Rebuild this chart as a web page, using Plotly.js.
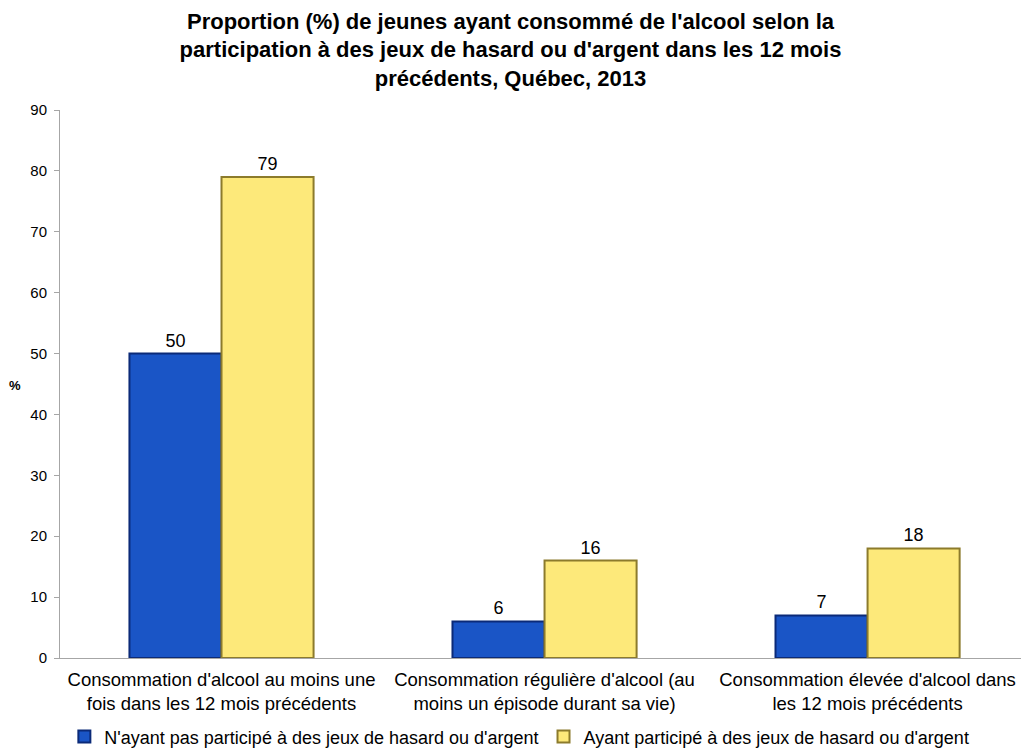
<!DOCTYPE html>
<html><head><meta charset="utf-8">
<script src="https://cdn.plot.ly/plotly-3.0.1.min.js"></script>
<style>body{margin:0;background:#fff}#c{width:1021px;height:750px}</style>
</head><body><div id="c"></div>
<script>
const categories = [
  "Consommation d'alcool au moins une<br>fois dans les 12 mois précédents",
  "Consommation régulière d'alcool (au<br>moins un épisode durant sa vie)",
  "Consommation élevée d'alcool dans<br>les 12 mois précédents"
];
const seriesNames = [
  "N'ayant pas participé à des jeux de hasard ou d'argent",
  "Ayant participé à des jeux de hasard ou d'argent"
];
const nonJoueurs = [50, 6, 7];
const joueurs = [79, 16, 18];
const yTicks = [0, 10, 20, 30, 40, 50, 60, 70, 80, 90];

const font = "Liberation Sans, Arial, sans-serif";
const data = [
  {type:'bar', name:seriesNames[0], x:categories, y:nonJoueurs,
   text:nonJoueurs.map(String), textposition:'outside', cliponaxis:false,
   textfont:{size:18,color:'#000',family:font},
   marker:{color:'#1a55c6', line:{color:'#0b2a78', width:2}}},
  {type:'bar', name:seriesNames[1], x:categories, y:joueurs,
   text:joueurs.map(String), textposition:'outside', cliponaxis:false,
   textfont:{size:18,color:'#000',family:font},
   marker:{color:'#fde97a', line:{color:'#8c7b2c', width:2}}}
];
const layout = {
  width:1021, height:750,
  margin:{l:60, r:0, t:110, b:92, autoexpand:false},
  paper_bgcolor:'#fff', plot_bgcolor:'#fff',
  font:{family:font, color:'#000'},
  title:{text:"Proportion (%) de jeunes ayant consommé de l'alcool selon la<br>participation à des jeux de hasard ou d'argent dans les 12 mois<br>précédents, Québec, 2013",
    font:{size:22, family:font, color:'#000', weight:'bold'}, x:0.5, xanchor:'center', y:0.962, yanchor:'top'},
  barmode:'group', bargap:0.43, bargroupgap:0.0,
  xaxis:{type:'category', range:[-0.5, 2.475], showline:true, linecolor:'#a6a6a6', linewidth:1,
    ticks:'', tickfont:{size:18.5, family:font, color:'#000'}, showgrid:false, zeroline:false,
    ticklabelstandoff:5},
  yaxis:{range:[0,90], tickvals:yTicks, showline:true, linecolor:'#a6a6a6', linewidth:1,
    ticks:'outside', ticklen:5, tickcolor:'#a6a6a6', tickfont:{size:15, family:font, color:'#000'},
    showgrid:false, zeroline:false, ticklabelstandoff:4},
  legend:{orientation:'h', x:0.478, xanchor:'center', y:-0.144, yanchor:'middle',
    font:{size:18, family:font, color:'#000'}, itemwidth:30, tracegroupgap:0},
  annotations:[{text:'<b>%</b>', xref:'paper', yref:'paper', x:-0.047, y:0.497, xanchor:'center', yanchor:'middle',
    showarrow:false, font:{size:13, family:font, color:'#000'}}],
  showlegend:true
};
Plotly.newPlot('c', data, layout, {displayModeBar:false, staticPlot:true});
</script></body></html>
